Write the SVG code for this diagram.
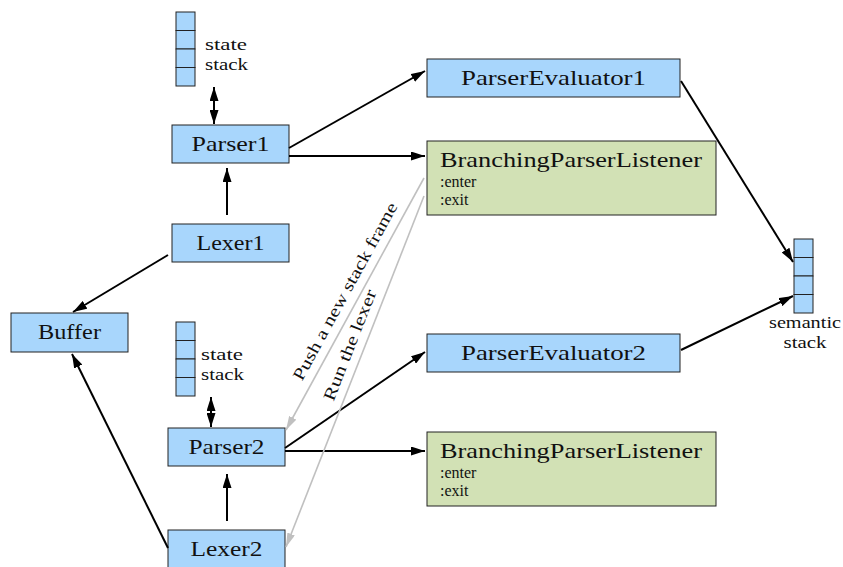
<svg xmlns="http://www.w3.org/2000/svg" width="843" height="567" viewBox="0 0 843 567">
<defs>
<marker id="ah" viewBox="0 0 14 9" refX="14" refY="4.5" markerWidth="14" markerHeight="9" markerUnits="userSpaceOnUse" orient="auto-start-reverse"><path d="M0,0 L14,4.5 L0,9 Z" fill="#000"/></marker>
<marker id="ag" viewBox="0 0 14 8" refX="14" refY="4" markerWidth="14" markerHeight="8" markerUnits="userSpaceOnUse" orient="auto"><path d="M0,0 L14,4 L0,8 Z" fill="#c0c0c0"/></marker>
<style>
.b{fill:#a8d6fc;stroke:#222;stroke-width:1}
.g{fill:#d2e1b5;stroke:#222;stroke-width:1}
.t{font-family:"Liberation Serif","DejaVu Serif",serif;font-size:21px;fill:#111;text-anchor:middle}
.s{font-family:"Liberation Serif","DejaVu Serif",serif;font-size:17px;fill:#111}
.e{font-family:"Liberation Serif","DejaVu Serif",serif;font-size:16px;fill:#111}
.c{stroke:#000;stroke-width:2;fill:none}
.gr{stroke:#c0c0c0;stroke-width:1.6;fill:none}
.l{font-family:"Liberation Serif","DejaVu Serif",serif;font-size:17px;fill:#111;text-anchor:middle}
</style>
</defs>
<rect width="843" height="567" fill="#fff"/>
<g id="stateStack1">
<rect class="b" x="176" y="12" width="19" height="18.5"/>
<rect class="b" x="176" y="30.5" width="19" height="18.5"/>
<rect class="b" x="176" y="49" width="19" height="18.5"/>
<rect class="b" x="176" y="67.5" width="19" height="18.5"/>
<text class="s" x="205" y="50" textLength="42" lengthAdjust="spacingAndGlyphs">state</text>
<text class="s" x="205" y="70" textLength="43" lengthAdjust="spacingAndGlyphs">stack</text>
</g>
<g id="parser1"><rect class="b" x="172" y="125" width="117" height="38"/><text class="t" x="230.5" y="151" textLength="78" lengthAdjust="spacingAndGlyphs">Parser1</text></g>
<g id="lexer1"><rect class="b" x="172" y="224" width="117" height="38"/><text class="t" x="230.5" y="250" textLength="68" lengthAdjust="spacingAndGlyphs">Lexer1</text></g>
<g id="buffer"><rect class="b" x="11" y="313" width="117" height="39"/><text class="t" x="69.5" y="339" textLength="63" lengthAdjust="spacingAndGlyphs">Buffer</text></g>
<g id="parserEvaluator1"><rect class="b" x="427" y="59" width="253" height="38"/><text class="t" x="553.5" y="85" textLength="185" lengthAdjust="spacingAndGlyphs">ParserEvaluator1</text></g>
<g id="listener1"><rect class="g" x="427" y="141" width="289" height="74"/><text class="t" x="571" y="167" textLength="262" lengthAdjust="spacingAndGlyphs">BranchingParserListener</text><text class="e" x="440" y="187">:enter</text><text class="e" x="440" y="205">:exit</text></g>
<g id="semanticStack">
<rect class="b" x="794" y="239" width="19" height="18.5"/>
<rect class="b" x="794" y="257.5" width="19" height="18.5"/>
<rect class="b" x="794" y="276" width="19" height="18.5"/>
<rect class="b" x="794" y="294.5" width="19" height="18.5"/>
<text class="l" x="805" y="328" textLength="72" lengthAdjust="spacingAndGlyphs">semantic</text>
<text class="l" x="805" y="348" textLength="43" lengthAdjust="spacingAndGlyphs">stack</text>
</g>
<g id="parserEvaluator2"><rect class="b" x="427" y="334" width="253" height="38"/><text class="t" x="553.5" y="360" textLength="185" lengthAdjust="spacingAndGlyphs">ParserEvaluator2</text></g>
<g id="stateStack2">
<rect class="b" x="176" y="322" width="19" height="18.5"/>
<rect class="b" x="176" y="340.5" width="19" height="18.5"/>
<rect class="b" x="176" y="359" width="19" height="18.5"/>
<rect class="b" x="176" y="377.5" width="19" height="18.5"/>
<text class="s" x="201" y="360" textLength="42" lengthAdjust="spacingAndGlyphs">state</text>
<text class="s" x="201" y="380" textLength="43" lengthAdjust="spacingAndGlyphs">stack</text>
</g>
<g id="parser2"><rect class="b" x="168" y="428" width="117" height="38"/><text class="t" x="226.5" y="454" textLength="76" lengthAdjust="spacingAndGlyphs">Parser2</text></g>
<g id="listener2"><rect class="g" x="427" y="432" width="289" height="74"/><text class="t" x="571" y="458" textLength="262" lengthAdjust="spacingAndGlyphs">BranchingParserListener</text><text class="e" x="440" y="478">:enter</text><text class="e" x="440" y="496">:exit</text></g>
<g id="lexer2"><rect class="b" x="168" y="530" width="117" height="38"/><text class="t" x="226.5" y="556" textLength="72" lengthAdjust="spacingAndGlyphs">Lexer2</text></g>
<g id="connectors">
<line class="c" x1="214" y1="87" x2="214" y2="124" marker-start="url(#ah)" marker-end="url(#ah)"/>
<line class="c" x1="227" y1="215" x2="227" y2="168" marker-end="url(#ah)"/>
<line class="c" x1="168" y1="255" x2="73" y2="312" marker-end="url(#ah)"/>
<line class="c" x1="289" y1="148" x2="425" y2="71" marker-end="url(#ah)"/>
<line class="c" x1="289" y1="156" x2="425" y2="156" marker-end="url(#ah)"/>
<line class="c" x1="681" y1="81" x2="793" y2="262" marker-end="url(#ah)"/>
<line class="c" x1="681" y1="350" x2="793" y2="296" marker-end="url(#ah)"/>
<line class="c" x1="211" y1="397" x2="211" y2="427" marker-start="url(#ah)" marker-end="url(#ah)"/>
<line class="c" x1="285" y1="448" x2="425" y2="352" marker-end="url(#ah)"/>
<line class="c" x1="285" y1="451" x2="425" y2="451" marker-end="url(#ah)"/>
<line class="c" x1="227" y1="521" x2="227" y2="474" marker-end="url(#ah)"/>
<line class="c" x1="168" y1="548" x2="72" y2="354" marker-end="url(#ah)"/>
<line class="gr" x1="424" y1="178" x2="286" y2="430" marker-end="url(#ag)"/>
<line class="gr" x1="424" y1="196" x2="286" y2="547" marker-end="url(#ag)"/>
<text class="l" transform="translate(350,294) rotate(-61.3)" textLength="200" lengthAdjust="spacingAndGlyphs">Push a new stack frame</text>
<text class="l" transform="translate(355,347) rotate(-68.5)" textLength="118" lengthAdjust="spacingAndGlyphs">Run the lexer</text>
</g>
</svg>
